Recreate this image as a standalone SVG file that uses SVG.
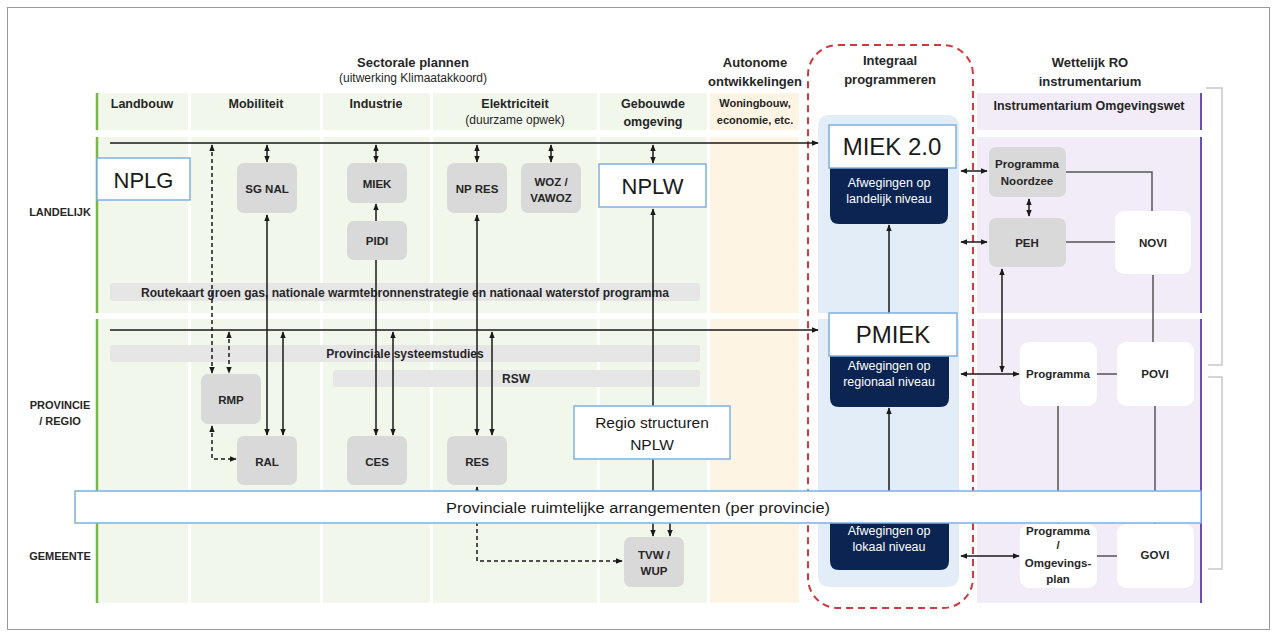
<svg xmlns="http://www.w3.org/2000/svg" width="1277" height="637" viewBox="0 0 1277 637">
<style>
text{font-family:"Liberation Sans",Arial,sans-serif;fill:#262626;text-anchor:middle}
.t{font-weight:bold;font-size:13px}
.s{font-size:12px}
.c{font-weight:bold;font-size:12.5px}
.cb{font-weight:bold;font-size:12px}
.cs{font-weight:bold;font-size:11px}
.b{font-weight:bold;font-size:11.5px}
.r{font-weight:bold;font-size:11px}
.big{font-size:22px;fill:#1a1a1a}
.mid{font-size:15.5px;fill:#1a1a1a}
.nv{font-size:12.5px;fill:#ffffff}
.g{fill:#f2f7ec}
.o{fill:#fdf4e3}
.p{fill:#f1ecf8}
.lb{fill:#e3edf8}
.gb{fill:#d9d9d9}
.wb{fill:#ffffff}
.bl{fill:#ffffff;stroke:#7fb0e0;stroke-width:1.5}
.navy{fill:#0b2452}
.bar{fill:#e6e6e6}
.ln{stroke:#1a1a1a;stroke-width:1.5;fill:none}
.dl{stroke:#1a1a1a;stroke-width:1.5;fill:none;stroke-dasharray:4 3}
.gl{stroke:#555;stroke-width:1.5;fill:none}
.a2{marker-start:url(#ah);marker-end:url(#ah)}
.a1{marker-end:url(#ah)}
</style>
<defs>
<marker id="ah" viewBox="0 0 10 10" refX="9" refY="5" markerWidth="7" markerHeight="7" markerUnits="userSpaceOnUse" orient="auto-start-reverse"><path d="M0,1 L10,5 L0,9 z" fill="#1a1a1a"/></marker>
</defs>
<rect x="7.5" y="7.5" width="1262" height="622" fill="#fff" stroke="#999" stroke-width="1"/>

<g id="background">
<rect class="g" x="97" y="93" width="91" height="37"/>
<rect class="g" x="191" y="93" width="129" height="37"/>
<rect class="g" x="323" y="93" width="107" height="37"/>
<rect class="g" x="433" y="93" width="164" height="37"/>
<rect class="g" x="600" y="93" width="107" height="37"/>
<rect class="o" x="710" y="93" width="89" height="37"/>
<rect class="p" x="977" y="93" width="224" height="37"/>
<rect class="g" x="97" y="137" width="91" height="176"/>
<rect class="g" x="191" y="137" width="129" height="176"/>
<rect class="g" x="323" y="137" width="107" height="176"/>
<rect class="g" x="433" y="137" width="164" height="176"/>
<rect class="g" x="600" y="137" width="107" height="176"/>
<rect class="o" x="710" y="137" width="89" height="176"/>
<rect class="p" x="977" y="137" width="224" height="176"/>
<rect class="g" x="97" y="319" width="91" height="284"/>
<rect class="g" x="191" y="319" width="129" height="284"/>
<rect class="g" x="323" y="319" width="107" height="284"/>
<rect class="g" x="433" y="319" width="164" height="284"/>
<rect class="g" x="600" y="319" width="107" height="284"/>
<rect class="o" x="710" y="319" width="89" height="284"/>
<rect class="p" x="977" y="319" width="224" height="284"/>
<path d="M818,313 V127 Q818,115 830,115 H947 Q959,115 959,127 V313 Z" class="lb"/>
<path d="M818,319 V575 Q818,587 830,587 H947 Q959,587 959,575 V319 Z" class="lb"/>
<g stroke="#7ab648" stroke-width="2.5"><line x1="97" y1="93" x2="97" y2="130"/><line x1="97" y1="137" x2="97" y2="313"/><line x1="97" y1="319" x2="97" y2="603"/></g>
<g stroke="#6a4fb0" stroke-width="2"><line x1="1201" y1="93" x2="1201" y2="130"/><line x1="1201" y1="137" x2="1201" y2="313"/><line x1="1201" y1="319" x2="1201" y2="603"/></g>
<rect x="808" y="45" width="165" height="563" rx="30" fill="none" stroke="#d2393e" stroke-width="2" stroke-dasharray="7 5"/>
<path d="M1206,88 H1222 V365 H1208 M1208,377 H1222 V569 H1208" fill="none" stroke="#c8c8c8" stroke-width="1.5"/>
</g>

<g id="titles">
<text class="t" x="413" y="67">Sectorale plannen</text>
<text class="s" x="413" y="82">(uitwerking Klimaatakkoord)</text>
<text class="t" x="755" y="67">Autonome</text>
<text class="t" x="755" y="86">ontwikkelingen</text>
<text class="t" x="890" y="65">Integraal</text>
<text class="t" x="890" y="84">programmeren</text>
<text class="t" x="1090" y="67">Wettelijk RO</text>
<text class="t" x="1090" y="86">instrumentarium</text>
<text class="c" x="142" y="108">Landbouw</text>
<text class="c" x="256" y="108">Mobiliteit</text>
<text class="c" x="376" y="108">Industrie</text>
<text class="c" x="515" y="108">Elektriciteit</text>
<text class="s" x="515" y="124">(duurzame opwek)</text>
<text class="c" x="653" y="108">Gebouwde</text>
<text class="c" x="653" y="126">omgeving</text>
<text class="cs" x="755" y="107">Woningbouw,</text>
<text class="cs" x="755" y="124">economie, etc.</text>
<text class="c" x="1089" y="110">Instrumentarium Omgevingswet</text>
<text class="r" x="60" y="216">LANDELIJK</text>
<text class="r" x="60" y="409">PROVINCIE</text>
<text class="r" x="60" y="425">/ REGIO</text>
<text class="r" x="60" y="560">GEMEENTE</text>
</g>

<g id="bars">
<rect class="bar" x="110" y="283" width="590" height="18" rx="3"/>
<text class="cb" x="405" y="297" textLength="528" lengthAdjust="spacingAndGlyphs">Routekaart groen gas, nationale warmtebronnenstrategie en nationaal waterstof programma</text>
<rect class="bar" x="110" y="345" width="590" height="17" rx="3"/>
<text class="cb" x="405" y="358">Provinciale systeemstudies</text>
<rect class="bar" x="333" y="370" width="367" height="17" rx="3"/>
<text class="cb" x="516" y="383">RSW</text>
</g>

<g id="connectors">
<line class="ln a1" x1="110" y1="143" x2="818" y2="143"/>
<line class="ln a1" x1="110" y1="330" x2="818" y2="330"/>
<line class="dl a2" x1="212" y1="145" x2="212" y2="373"/>
<line class="dl a2" x1="229" y1="332" x2="229" y2="373"/>
<polyline class="dl a2" points="212,426 212,459 236,459"/>
<line class="ln a2" x1="267" y1="215" x2="267" y2="435"/>
<line class="ln a2" x1="283" y1="332" x2="283" y2="435"/>
<line class="ln a2" x1="267" y1="145" x2="267" y2="162"/>
<line class="ln a2" x1="376" y1="145" x2="376" y2="162"/>
<line class="ln a1" x1="376" y1="221" x2="376" y2="204"/>
<line class="ln a1" x1="376" y1="260" x2="376" y2="435"/>
<line class="ln a2" x1="393" y1="332" x2="393" y2="435"/>
<line class="ln a2" x1="477" y1="145" x2="477" y2="162"/>
<line class="ln a2" x1="477" y1="215" x2="477" y2="435"/>
<line class="ln a2" x1="492" y1="332" x2="492" y2="435"/>
<polyline class="dl a2" points="477,487 477,561 622,561"/>
<line class="ln a2" x1="551" y1="145" x2="551" y2="162"/>
<line class="ln a2" x1="653" y1="145" x2="653" y2="163"/>
<line class="ln a2" x1="653" y1="209" x2="653" y2="536"/>
<line class="ln a1" x1="670" y1="520" x2="670" y2="536"/>
<line class="ln a1" x1="889" y1="313" x2="889" y2="225"/>
<line class="ln a1" x1="889" y1="500" x2="889" y2="408"/>
<line class="ln a2" x1="961" y1="171" x2="987" y2="171"/>
<line class="ln a2" x1="961" y1="242" x2="987" y2="242"/>
<line class="ln a2" x1="1029" y1="199" x2="1029" y2="216"/>
<line class="ln a2" x1="961" y1="374" x2="1019" y2="374"/>
<line class="ln a2" x1="1002" y1="269" x2="1002" y2="372"/>
<line class="ln a2" x1="961" y1="556" x2="1019" y2="556"/>
<polyline class="gl" points="1066,172 1152,172 1152,211"/>
<line class="gl" x1="1066" y1="242" x2="1115" y2="242"/>
<line class="gl" x1="1153" y1="275" x2="1153" y2="342"/>
<line class="gl" x1="1097" y1="374" x2="1117" y2="374"/>
<line class="gl" x1="1058" y1="406" x2="1058" y2="524"/>
<line class="gl" x1="1155" y1="406" x2="1155" y2="524"/>
<line class="gl" x1="1097" y1="556" x2="1117" y2="556"/>
</g>

<g id="NPLG"><rect class="bl" x="97" y="158" width="93" height="42"/><text class="big" x="143.5" y="188">NPLG</text></g>
<g id="SGNAL"><rect class="gb" x="237" y="163" width="60" height="50" rx="7"/><text class="b" x="267" y="193">SG NAL</text></g>
<g id="MIEK"><rect class="gb" x="347" y="163" width="60" height="40" rx="7"/><text class="b" x="377" y="188">MIEK</text></g>
<g id="PIDI"><rect class="gb" x="347" y="221" width="60" height="39" rx="7"/><text class="b" x="377" y="245">PIDI</text></g>
<g id="NPRES"><rect class="gb" x="447" y="163" width="60" height="50" rx="7"/><text class="b" x="477" y="193">NP RES</text></g>
<g id="WOZ"><rect class="gb" x="521" y="163" width="60" height="50" rx="7"/><text class="b" x="551" y="186">WOZ /</text><text class="b" x="551" y="202">VAWOZ</text></g>
<g id="NPLW"><rect class="bl" x="599" y="164" width="107" height="43"/><text class="big" x="652.5" y="194">NPLW</text></g>
<g id="RMP"><rect class="gb" x="201" y="374" width="60" height="50" rx="7"/><text class="b" x="231" y="404">RMP</text></g>
<g id="RAL"><rect class="gb" x="237" y="436" width="60" height="49" rx="7"/><text class="b" x="267" y="466">RAL</text></g>
<g id="CES"><rect class="gb" x="347" y="436" width="60" height="49" rx="7"/><text class="b" x="377" y="466">CES</text></g>
<g id="RES"><rect class="gb" x="447" y="436" width="60" height="49" rx="7"/><text class="b" x="477" y="466">RES</text></g>
<g id="RegioNPLW"><rect class="bl" x="574" y="406" width="156" height="53"/><text class="mid" x="652" y="428">Regio structuren</text><text class="mid" x="652" y="450">NPLW</text></g>
<g id="TVW"><rect class="gb" x="624" y="537" width="60" height="50" rx="7"/><text class="b" x="654" y="559">TVW /</text><text class="b" x="654" y="575">WUP</text></g>

<g id="MIEK20">
<path class="navy" d="M830,165 H948 V215 Q948,224 939,224 H839 Q830,224 830,215 Z"/>
<rect class="bl" x="829" y="125" width="127" height="43"/>
<text class="big" x="892" y="155" style="font-size:24px">MIEK 2.0</text>
<text class="nv" x="889" y="187">Afwegingen op</text>
<text class="nv" x="889" y="203">landelijk niveau</text>
</g>
<g id="PMIEK">
<path class="navy" d="M830,353 H949 V398 Q949,407 940,407 H839 Q830,407 830,398 Z"/>
<rect class="bl" x="829" y="313" width="128" height="43"/>
<text class="big" x="893" y="343" style="font-size:24px">PMIEK</text>
<text class="nv" x="889" y="370">Afwegingen op</text>
<text class="nv" x="889" y="386">regionaal niveau</text>
</g>
<g id="Lokaal">
<path class="navy" d="M830,500 H949 V561 Q949,570 940,570 H839 Q830,570 830,561 Z"/>
<text class="nv" x="889" y="535">Afwegingen op</text>
<text class="nv" x="889" y="551">lokaal niveau</text>
</g>

<g id="Noordzee"><rect class="gb" x="989" y="147" width="77" height="50" rx="7"/><text class="b" x="1027" y="168">Programma</text><text class="b" x="1027" y="185">Noordzee</text></g>
<g id="PEH"><rect class="gb" x="989" y="218" width="77" height="49" rx="7"/><text class="b" x="1027" y="247">PEH</text></g>
<g id="NOVI"><rect class="wb" x="1115" y="211" width="76" height="63" rx="9"/><text class="b" x="1153" y="247">NOVI</text></g>
<g id="ProgrammaProv"><rect class="wb" x="1020" y="342" width="77" height="64" rx="9"/><text class="b" x="1058" y="378">Programma</text></g>
<g id="POVI"><rect class="wb" x="1117" y="342" width="77" height="64" rx="9"/><text class="b" x="1155" y="378">POVI</text></g>
<g id="ProgrammaGem"><rect class="wb" x="1020" y="524" width="77" height="64" rx="9"/><text class="b" x="1058" y="535">Programma</text><text class="b" x="1058" y="549">/</text><text class="b" x="1058" y="567">Omgevings-</text><text class="b" x="1058" y="583">plan</text></g>
<g id="GOVI"><rect class="wb" x="1117" y="524" width="77" height="64" rx="9"/><text class="b" x="1155" y="559">GOVI</text></g>

<g id="Arrangementen"><rect class="bl" x="75" y="491" width="1126" height="32"/><text class="mid" x="638" y="513" textLength="384" lengthAdjust="spacingAndGlyphs">Provinciale ruimtelijke arrangementen (per provincie)</text></g>
</svg>
